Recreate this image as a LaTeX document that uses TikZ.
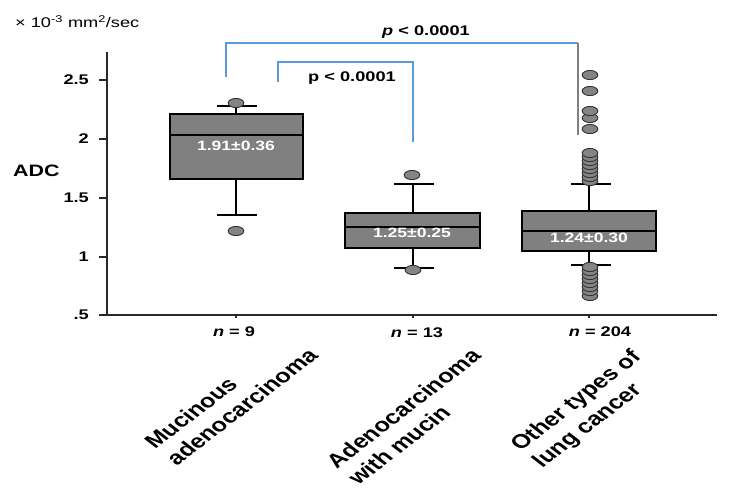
\documentclass[tikz,border=0pt]{standalone}
\usepackage{fontspec}
\setmainfont{Liberation Sans}[FakeStretch=1.3]
\newfontfamily\plainsans{Liberation Sans}
\definecolor{boxgray}{RGB}{128,128,128}
\definecolor{dotgray}{RGB}{132,132,132}
\definecolor{pblue}{RGB}{91,155,213}
\definecolor{axisc}{RGB}{40,40,40}
\begin{document}
\begin{tikzpicture}[x=1pt,y=-1pt,
  axisline/.style={draw=axisc,line width=1.5},
  boxrect/.style={draw=black,fill=boxgray,line width=1.8},
  medline/.style={draw=black,line width=1.8},
  whisk/.style={draw=black,line width=1.5},
  outl/.style={draw=black!80,fill=dotgray,line width=0.9},
  brk/.style={draw=pblue,line width=1.2},
  ticklab/.style={font=\bfseries\fontsize{14}{16}\selectfont,anchor=east,inner sep=0},
  nlab/.style={font=\bfseries\fontsize{14}{16}\selectfont,inner sep=0},
  boxlab/.style={font=\bfseries\fontsize{13.5}{16}\selectfont,text=white,inner sep=0},
  plab/.style={font=\bfseries\fontsize{14}{16}\selectfont,inner sep=0},
  catlab/.style={font=\plainsans\bfseries\fontsize{19.5}{23.5}\selectfont,align=left,inner sep=0,anchor=north east,transform shape,rotate=45}
]
\useasboundingbox (0,0) rectangle (731,497);
% units and ADC
\node[anchor=base west,inner sep=0,font=\fontsize{14}{16}\selectfont] (unit) at (15,28) {× 10\textsuperscript{-3} mm\textsuperscript{2}/sec};
\node[anchor=base west,inner sep=0,font=\bfseries\fontsize{16.5}{18}\selectfont] (adc) at (13,177) {ADC};
% axes
\draw[axisline] (107,52) -- (107,315) -- (717,315);
\foreach \yy/\lab [count=\i] in {80/2.5,139/2,198/1.5,257/1,315/.5}{
  \draw[axisline] (99,\yy) -- (107,\yy);
  \node[ticklab] (t\i) at (89,\yy) {\lab};
}
\foreach \xx in {236,413,589}{ \draw[axisline] (\xx,315) -- (\xx,318); }
% brackets
\draw[brk] (226,77) -- (226,43) -- (578,43);
\draw[draw=gray,line width=1.2] (578,43) -- (578,135);
\draw[brk] (278,82) -- (278,62) -- (413,62) -- (413,142);
\node[plab] (p1) at (426,32) {\textit{p} < 0.0001};
\node[plab] (p2) at (352,78) {p < 0.0001};
% box 1
\draw[whisk] (236,114) -- (236,106) (217,106) -- (257,106);
\draw[whisk] (236,179) -- (236,215) (217,215) -- (257,215);
\draw[boxrect] (170,114) rectangle (303,179);
\draw[medline] (170,135) -- (303,135);
\draw[outl] (236,103) ellipse [x radius=7.8,y radius=4.6];
\draw[outl] (236,231) ellipse [x radius=7.8,y radius=4.6];
\node[boxlab] (m1) at (236,146) {1.91±0.36};
% box 2
\draw[whisk] (413,213) -- (413,184) (394,184) -- (434,184);
\draw[whisk] (413,248) -- (413,268) (394,268) -- (434,268);
\draw[boxrect] (345,213) rectangle (480,248);
\draw[medline] (345,227) -- (480,227);
\draw[outl] (412,175) ellipse [x radius=7.8,y radius=4.6];
\draw[outl] (413,270) ellipse [x radius=7.8,y radius=4.6];
\node[boxlab] (m2) at (412,233) {1.25±0.25};
% box 3
\draw[whisk] (589,211) -- (589,184) (571,184) -- (611,184);
\draw[whisk] (589,251) -- (589,265) (571,265) -- (611,265);
\draw[boxrect] (522,211) rectangle (656,251);
\draw[medline] (522,231) -- (656,231);
\foreach \yy in {75,91,129,118,111,181,177,173,169,165,161,157,153}{
  \draw[outl] (590,\yy) ellipse [x radius=7.8,y radius=4.6];
}
\foreach \yy in {296,291,287,283,279,275,271,267}{
  \draw[outl] (590,\yy) ellipse [x radius=7.8,y radius=4.6];
}
\node[boxlab] (m3) at (589,238) {1.24±0.30};
% n labels
\node[nlab] (n1) at (234,332) {\textit{n} = 9};
\node[nlab] (n2) at (417,333) {\textit{n} = 13};
\node[nlab] (n3) at (600,332) {\textit{n} = 204};
% category labels
\begin{scope}[xscale=1.3]
\node[catlab] (c1) at (219,330) {Mucinous\\adenocarcinoma};
\node[catlab] (c2) at (361,347) {Adenocarcinoma\\with mucin};
\node[catlab] (c3) at (484,348) {Other types of\\lung cancer};
\end{scope}
\end{tikzpicture}
\end{document}
